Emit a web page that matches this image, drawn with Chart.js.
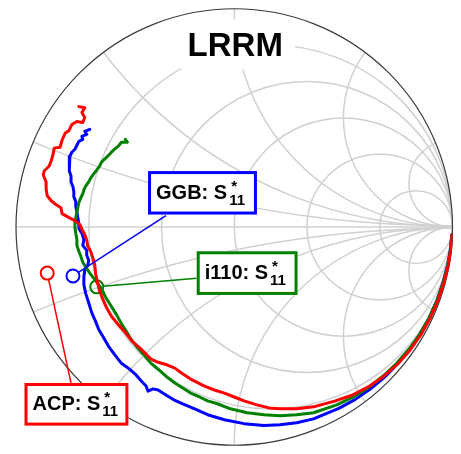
<!DOCTYPE html>
<html><head><meta charset="utf-8">
<script src="https://cdn.jsdelivr.net/npm/chart.js@4.4.1/dist/chart.umd.min.js"></script>
<style>html,body{margin:0;padding:0;background:#fff;}canvas{display:block;}</style>
</head><body>
<canvas id="c" width="461" height="454"></canvas>
<script>
// ---- data: reflection coefficient S11* (real / imaginary parts) ----
const chartTitle = 'LRRM';
const seriesNames = ['ACP', 'GGB', 'i110'];

const acpRe = [-0.712,-0.685,-0.698,-0.685,-0.694,-0.721,-0.744,-0.757,-0.775,-0.789,-0.798,-0.825,-0.830,-0.839,-0.848,-0.871,-0.875,-0.862,-0.862,-0.857,-0.839,-0.816,-0.794,-0.789,-0.757,-0.730,-0.707,-0.698,-0.685,-0.676,-0.671,-0.658,-0.649,-0.639,-0.635,-0.626,-0.617,-0.603,-0.585,-0.562,-0.531,-0.499,-0.467,-0.426,-0.381,-0.349,-0.317,-0.272,-0.240,-0.200,-0.136,-0.091,-0.045,0.000,0.045,0.104,0.159,0.209,0.286,0.363,0.460,0.539,0.614,0.684,0.748,0.805,0.855,0.897,0.932,0.960,0.981,0.992,0.997,0.998];
const acpIm = [0.551,0.546,0.524,0.501,0.478,0.483,0.469,0.442,0.429,0.397,0.365,0.361,0.333,0.302,0.279,0.256,0.238,0.206,0.175,0.143,0.120,0.102,0.088,0.061,0.043,0.029,0.011,-0.011,-0.034,-0.061,-0.088,-0.111,-0.138,-0.175,-0.215,-0.256,-0.293,-0.329,-0.370,-0.410,-0.447,-0.483,-0.524,-0.560,-0.605,-0.619,-0.628,-0.646,-0.669,-0.696,-0.728,-0.746,-0.760,-0.778,-0.796,-0.814,-0.828,-0.832,-0.832,-0.823,-0.797,-0.770,-0.732,-0.684,-0.628,-0.564,-0.494,-0.418,-0.339,-0.257,-0.173,-0.104,-0.052,-0.035];

const ggbRe = [-0.662,-0.685,-0.676,-0.698,-0.694,-0.712,-0.721,-0.730,-0.744,-0.753,-0.757,-0.753,-0.757,-0.748,-0.748,-0.739,-0.735,-0.735,-0.726,-0.726,-0.721,-0.717,-0.712,-0.712,-0.698,-0.689,-0.694,-0.676,-0.676,-0.667,-0.671,-0.685,-0.689,-0.689,-0.680,-0.667,-0.653,-0.635,-0.621,-0.599,-0.576,-0.549,-0.517,-0.485,-0.454,-0.426,-0.404,-0.395,-0.372,-0.349,-0.313,-0.277,-0.236,-0.181,-0.122,-0.045,0.045,0.136,0.209,0.286,0.363,0.479,0.553,0.623,0.688,0.748,0.802,0.850,0.893,0.928,0.956,0.978,0.990,0.997];
const ggbIm = [0.447,0.438,0.424,0.415,0.401,0.392,0.374,0.356,0.342,0.324,0.302,0.279,0.256,0.234,0.206,0.184,0.161,0.138,0.116,0.093,0.070,0.043,0.016,-0.007,-0.029,-0.057,-0.084,-0.107,-0.129,-0.152,-0.175,-0.197,-0.229,-0.265,-0.306,-0.347,-0.392,-0.433,-0.469,-0.506,-0.546,-0.583,-0.624,-0.646,-0.673,-0.705,-0.728,-0.751,-0.741,-0.746,-0.769,-0.791,-0.809,-0.832,-0.859,-0.882,-0.900,-0.909,-0.905,-0.896,-0.878,-0.830,-0.790,-0.742,-0.688,-0.627,-0.562,-0.491,-0.416,-0.338,-0.256,-0.172,-0.104,-0.035];

const i110Re = [-0.499,-0.490,-0.517,-0.531,-0.549,-0.567,-0.580,-0.594,-0.608,-0.617,-0.630,-0.644,-0.658,-0.667,-0.680,-0.689,-0.694,-0.703,-0.712,-0.717,-0.721,-0.726,-0.730,-0.730,-0.726,-0.721,-0.721,-0.712,-0.703,-0.694,-0.680,-0.662,-0.644,-0.621,-0.603,-0.590,-0.562,-0.540,-0.517,-0.494,-0.472,-0.440,-0.408,-0.381,-0.349,-0.313,-0.272,-0.236,-0.200,-0.159,-0.122,-0.077,-0.018,0.059,0.136,0.209,0.286,0.363,0.470,0.545,0.616,0.682,0.744,0.800,0.850,0.893,0.928,0.957,0.979,0.991,0.997];
const i110Im = [0.401,0.388,0.388,0.370,0.356,0.338,0.324,0.311,0.297,0.279,0.261,0.243,0.224,0.206,0.188,0.170,0.152,0.134,0.111,0.088,0.066,0.043,0.020,-0.002,-0.029,-0.057,-0.084,-0.111,-0.134,-0.161,-0.184,-0.211,-0.234,-0.265,-0.293,-0.320,-0.365,-0.401,-0.442,-0.478,-0.515,-0.556,-0.592,-0.624,-0.651,-0.683,-0.714,-0.737,-0.760,-0.778,-0.796,-0.809,-0.832,-0.850,-0.859,-0.864,-0.859,-0.850,-0.814,-0.778,-0.734,-0.682,-0.624,-0.560,-0.491,-0.416,-0.338,-0.256,-0.173,-0.104,-0.035];

// probe model S11* markers (ACP, GGB, i110)
const markerRe = [-0.857, -0.739, -0.630];
const markerIm = [-0.211, -0.224, -0.274];

// Smith grid values (normalised resistance / reactance)
const gridR = [0.2, 0.5, 1, 2, 5];
const gridX = [0.2, 0.5, 1, 2, 5];

// ---- styling / layout (kept apart from data) ----
const colors = {ACP: '#ff0000', GGB: '#0000ff', i110: '#008000'};
const FONT = '"Liberation Sans", Arial, Helvetica, sans-serif';
// annotation boxes in reflection-plane coordinates: [left, top, right, bottom], leader start, marker index
const notes = [
  {name: 'GGB',  box: [-0.395, 0.256, 0.104, 0.057],  lead: [-0.313, 0.052],  m: 1},
  {name: 'i110', box: [-0.172, -0.111, 0.290, -0.311], lead: [-0.172, -0.234], m: 2},
  {name: 'ACP',  box: [-0.961, -0.714, -0.485, -0.909], lead: [-0.748, -0.714], m: 0}
];
const MARK_R = 6.5;

const pts = (re, im) => re.map((v, i) => ({x: v, y: im[i]}));

const smithGrid = {
  id: 'smithGrid',
  beforeDatasetsDraw(chart) {
    const {ctx} = chart, sx = chart.scales.x, sy = chart.scales.y;
    const px = v => sx.getPixelForValue(v), py = v => sy.getPixelForValue(v);
    const k = px(1) - px(0), cx0 = px(0), cy0 = py(0);
    ctx.save();
    ctx.beginPath(); ctx.arc(cx0, cy0, k, 0, 2 * Math.PI); ctx.clip();
    ctx.strokeStyle = '#d0d0d0'; ctx.lineWidth = 1.5;
    gridR.forEach(r => { ctx.beginPath(); ctx.arc(px(r / (1 + r)), cy0, k / (1 + r), 0, 2 * Math.PI); ctx.stroke(); });
    gridX.forEach(xv => [xv, -xv].forEach(s => {
      ctx.beginPath(); ctx.arc(px(1), py(1 / s), k / Math.abs(s), 0, 2 * Math.PI); ctx.stroke();
    }));
    ctx.beginPath(); ctx.moveTo(px(-1), cy0); ctx.lineTo(px(1), cy0); ctx.stroke();
    ctx.restore();
    ctx.save();
    ctx.strokeStyle = '#3a3a3a'; ctx.lineWidth = 1.2;
    ctx.beginPath(); ctx.arc(cx0, cy0, k, 0, 2 * Math.PI); ctx.stroke();
    ctx.restore();
  },
  afterDatasetsDraw(chart) {
    const {ctx} = chart, sx = chart.scales.x, sy = chart.scales.y;
    const px = v => sx.getPixelForValue(v), py = v => sy.getPixelForValue(v);
    const ca = chart.chartArea;
    ctx.save();
    // title with white background
    ctx.fillStyle = '#fff';
    const cxm = (ca.left + ca.right) / 2;
    ctx.fillRect(cxm - 53, ca.top + 11, 114, 50);
    ctx.fillStyle = '#000';
    ctx.font = 'bold 33px ' + FONT;
    ctx.textAlign = 'center'; ctx.textBaseline = 'alphabetic';
    ctx.fillText(chartTitle, cxm + 1, ca.top + 47);
    ctx.textAlign = 'left';
    // annotations
    notes.forEach(n => {
      const col = colors[n.name];
      const mx = px(markerRe[n.m]), my = py(markerIm[n.m]);
      const lx = px(n.lead[0]), ly = py(n.lead[1]);
      const d = Math.hypot(lx - mx, ly - my);
      ctx.strokeStyle = col; ctx.lineWidth = 1.5;
      ctx.beginPath();
      ctx.moveTo(lx, ly);
      ctx.lineTo(mx + (lx - mx) / d * MARK_R, my + (ly - my) / d * MARK_R);
      ctx.stroke();
      const L = px(n.box[0]), T = py(n.box[1]), R = px(n.box[2]), B = py(n.box[3]);
      ctx.fillStyle = '#fff';
      ctx.fillRect(L, T, R - L, B - T);
      ctx.lineWidth = 3;
      ctx.strokeRect(L + 1.5, T + 1.5, R - L - 3, B - T - 3);
      const tx = L + 8, ty = (T + B) / 2 + 6;
      const label = n.name + ': S';
      ctx.fillStyle = '#000';
      ctx.font = 'bold 20px ' + FONT;
      ctx.fillText(label, tx, ty);
      const w = ctx.measureText(label).width;
      ctx.font = 'bold 15px ' + FONT;
      ctx.fillText('11', tx + w + 2, ty + 6);
      ctx.fillText('*', tx + w + 4, ty - 8);
    });
    ctx.restore();
  }
};

const lineDs = (name, re, im) => ({
  label: name, data: pts(re, im), showLine: true, borderColor: colors[name],
  borderWidth: 3, pointRadius: 0, fill: false, tension: 0,
  borderJoinStyle: 'round', borderCapStyle: 'round'
});
const markDs = (name, i) => ({
  label: name + ' model', data: [{x: markerRe[i], y: markerIm[i]}], showLine: false,
  pointRadius: MARK_R, pointStyle: 'circle', borderColor: colors[name], borderWidth: 2,
  backgroundColor: 'rgba(0,0,0,0)', pointBackgroundColor: 'rgba(0,0,0,0)'
});

new Chart(document.getElementById('c'), {
  type: 'scatter',
  data: {
    datasets: [
      lineDs('ACP', acpRe, acpIm),
      lineDs('i110', i110Re, i110Im),
      lineDs('GGB', ggbRe, ggbIm),
      markDs('ACP', 0), markDs('GGB', 1), markDs('i110', 2)
    ]
  },
  options: {
    responsive: false, animation: false, devicePixelRatio: 1, events: [],
    layout: {padding: {left: 16, right: 3, top: 8.5, bottom: 3.5}},
    scales: {
      x: {type: 'linear', min: -1, max: 1, display: false},
      y: {type: 'linear', min: -1, max: 1, display: false}
    },
    plugins: {legend: {display: false}, tooltip: {enabled: false}, title: {display: false}}
  },
  plugins: [smithGrid]
});
</script>
</body></html>
